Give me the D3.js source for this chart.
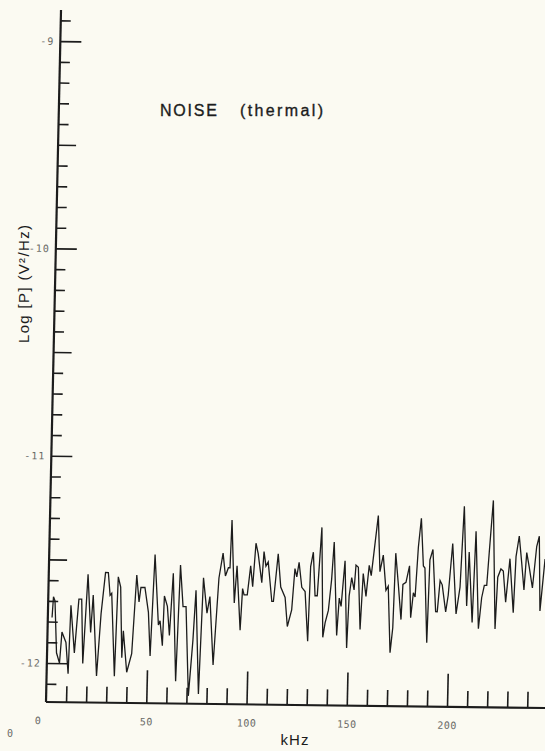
<!DOCTYPE html>
<html><head><meta charset="utf-8">
<script src="https://cdn.jsdelivr.net/npm/d3@7"></script>
<style>
html,body{margin:0;padding:0;background:#fbfaf2;}
svg{display:block;}
</style>
</head><body>
<svg id="chart" width="545" height="751"></svg>
<script>
// ---- data ----
const freqKHz = [2.1,2.6,3.4,4.7,6.3,7.2,9.3,10.7,11.4,13.6,
15.3,16.7,17.9,19.6,21.5,22.4,24.9,26.5,28.3,29.7,
30.8,31.6,33.8,34.7,36.0,37.3,37.8,39.9,42.2,43.9,
45.3,46.1,48.1,50.1,51.4,52.8,55.2,56.0,57.4,57.9,
59.5,60.8,62.1,64.4,65.6,67.3,68.8,70.9,72.6,73.6,
75.9,77.2,79.3,80.6,82.9,84.9,86.7,88.1,89.5,90.3,
90.8,92.8,93.8,96.0,96.8,97.6,99.2,100.6,101.8,103.0,
104.2,106.3,107.1,108.2,109.3,111.5,112.3,114.2,115.8,118.1,
119.5,121.5,122.7,123.7,124.7,126.3,128.0,129.8,130.5,131.7,
133.0,134.1,135.7,137.3,138.3,139.8,141.1,142.0,144.2,145.1,
146.1,147.6,149.3,150.0,151.1,152.4,153.1,154.3,155.8,156.8,
158.4,159.7,160.8,161.9,163.7,165.1,166.6,168.3,169.4,171.0,
172.1,172.8,174.4,176.1,176.7,178.2,179.8,180.9,182.0,182.9,
184.0,185.2,186.7,187.5,189.2,189.9,191.3,193.3,194.1,195.2,
196.3,198.3,199.4,201.1,203.5,205.2,206.5,208.7,209.4,211.6,
212.6,214.8,216.1,217.3,218.5,219.4,220.9,223.1,223.9,225.4,
226.6,228.1,229.8,232.0,232.8,234.2,235.7,237.1,238.1,239.5,
241.3,243.0,244.2,245.3,247.3];

const logP = [-11.78,-11.68,-11.70,-11.95,-12.00,-11.85,-11.90,-12.05,-11.72,-11.95,
-11.69,-11.69,-12.00,-11.57,-11.85,-11.67,-12.06,-11.76,-11.56,-11.56,
-11.67,-11.66,-12.06,-11.58,-11.63,-11.97,-11.84,-12.04,-11.95,-11.57,
-11.70,-11.63,-11.63,-11.75,-11.96,-11.47,-11.81,-11.79,-11.91,-11.67,
-11.72,-11.86,-11.56,-12.08,-11.52,-11.72,-11.72,-12.15,-11.88,-11.64,
-12.14,-11.58,-11.75,-11.67,-12.00,-11.58,-11.46,-11.57,-11.53,-11.53,
-11.30,-11.70,-11.52,-11.83,-11.63,-11.66,-11.66,-11.52,-11.62,-11.41,
-11.46,-11.60,-11.45,-11.52,-11.50,-11.69,-11.69,-11.46,-11.62,-11.67,
-11.81,-11.73,-11.53,-11.57,-11.50,-11.62,-11.64,-11.88,-11.52,-11.45,
-11.66,-11.66,-11.33,-11.86,-11.79,-11.73,-11.58,-11.40,-11.85,-11.67,
-11.71,-11.49,-11.91,-11.66,-11.57,-11.63,-11.51,-11.52,-11.82,-11.55,
-11.66,-11.51,-11.56,-11.45,-11.27,-11.54,-11.46,-11.63,-11.61,-11.93,
-11.81,-11.45,-11.60,-11.77,-11.60,-11.59,-11.51,-11.76,-11.64,-11.66,
-11.42,-11.28,-11.51,-11.52,-11.88,-11.48,-11.43,-11.73,-11.73,-11.58,
-11.60,-11.73,-11.65,-11.40,-11.74,-11.61,-11.22,-11.70,-11.44,-11.78,
-11.34,-11.81,-11.66,-11.60,-11.60,-11.44,-11.19,-11.81,-11.56,-11.52,
-11.53,-11.68,-11.47,-11.73,-11.46,-11.36,-11.49,-11.62,-11.44,-11.51,
-11.61,-11.41,-11.36,-11.72,-11.47];

const xMinorTicks = [10,20,30,40,60,70,80,90,110,120,130,140,160,170,180,190,210,220,230,240];
const xMajorTicks = [0,50,100,150,200];
const xTickLabels = ["0","50","100","150","200"];
const yMajorTicks = [-12,-11,-10,-9];
const yTickLabels = ["-12","-11","-10","-9"];
const yHalfTicks = [-11.5,-10.5,-9.5];
const yMinorTicks = [-12.1,-11.9,-11.8,-11.7,-11.6,-11.4,-11.3,-11.2,-11.1,
  -10.9,-10.8,-10.7,-10.6,-10.4,-10.3,-10.2,-10.1,-9.9,-9.8,-9.7,-9.6,-9.4,-9.3,-9.2,-9.1,-8.9];
const titleMain = "NOISE";
const titleSub = "(thermal)";
const xAxisTitle = "kHz";
const yAxisTitle = "Log [P]  (V²/Hz)";
const yDomain = [-12.188, -8.85];
const xDomain = [0, 250];

// ---- drawing ----
const svg = d3.select("#chart");
const ink = "#1c1c1c";
const grey = "#6a6a66";

// plot frame, slightly skewed like the scanned original
const g = svg.append("g").attr("transform", "matrix(1,0.012,-0.0217,1,46,702)");

const x = d3.scaleLinear().domain(xDomain).range([0, 501.25]);
const y = d3.scaleLinear().domain(yDomain).range([0, -692]);

function styleAxis(sel, w) {
  sel.selectAll(".domain").remove();
  sel.selectAll(".tick line").attr("stroke", ink).attr("stroke-width", w);
}

// x ticks (pointing up)
g.append("g").call(d3.axisTop(x).tickValues(xMinorTicks).tickSize(16).tickFormat(""))
  .call(s => styleAxis(s, 1.6));
g.append("g").call(d3.axisTop(x).tickValues(xMajorTicks.slice(1)).tickSize(33).tickFormat(""))
  .call(s => styleAxis(s, 1.6));
// x labels
const xl = g.append("g").call(d3.axisBottom(x).tickValues(xMajorTicks).tickSize(0).tickPadding(15)
    .tickFormat((d, i) => xTickLabels[i]));
xl.selectAll(".domain").remove();
xl.selectAll("text").attr("font-family", "DejaVu Sans Mono").attr("font-size", 10)
  .attr("fill", grey).attr("letter-spacing", 0.5)
  .attr("dx", (d) => d === 0 ? -8 : 0);

// y ticks (pointing right)
g.append("g").call(d3.axisRight(y).tickValues(yMinorTicks).tickSize(10).tickFormat(""))
  .call(s => styleAxis(s, 1.6));
g.append("g").call(d3.axisRight(y).tickValues(yHalfTicks).tickSize(18).tickFormat(""))
  .call(s => styleAxis(s, 1.6));
g.append("g").call(d3.axisRight(y).tickValues(yMajorTicks).tickSize(21).tickFormat(""))
  .call(s => styleAxis(s, 1.6));
// y labels
const yl = g.append("g").call(d3.axisLeft(y).tickValues(yMajorTicks).tickSize(0).tickPadding(6)
    .tickFormat((d, i) => yTickLabels[i]));
yl.selectAll(".domain").remove();
yl.selectAll("text").attr("font-family", "DejaVu Sans Mono").attr("font-size", 10)
  .attr("fill", grey).attr("letter-spacing", 1);

// axis lines
g.append("line").attr("x1", x(xDomain[0])).attr("x2", x(xDomain[1])).attr("y1", 0).attr("y2", 0)
  .attr("stroke", ink).attr("stroke-width", 2.2);
g.append("line").attr("x1", 0).attr("x2", 0).attr("y1", y(yDomain[0])).attr("y2", y(yDomain[1]))
  .attr("stroke", ink).attr("stroke-width", 2.2);

// noise curve
const pts = d3.zip(freqKHz, logP);
g.append("path").datum(pts)
  .attr("d", d3.line().x(d => x(d[0])).y(d => y(d[1])))
  .attr("fill", "none").attr("stroke", ink).attr("stroke-width", 1.3)
  .attr("stroke-linejoin", "miter");

// titles
svg.append("text").attr("x", 160).attr("y", 116).text(titleMain)
  .attr("font-family", "Liberation Sans").attr("font-size", 16).attr("fill", ink)
  .attr("stroke", ink).attr("stroke-width", 0.35)
  .attr("textLength", 57).attr("lengthAdjust", "spacing");
svg.append("text").attr("x", 240).attr("y", 116).text(titleSub)
  .attr("font-family", "Liberation Sans").attr("font-size", 16).attr("fill", ink)
  .attr("stroke", ink).attr("stroke-width", 0.35)
  .attr("textLength", 83).attr("lengthAdjust", "spacing");

svg.append("text").attr("x", 295).attr("y", 745).attr("text-anchor", "middle").text(xAxisTitle)
  .attr("font-family", "Liberation Sans").attr("font-size", 15).attr("fill", ink)
  .attr("letter-spacing", 1);

svg.append("text").attr("transform", "translate(29,284) rotate(-90)")
  .attr("text-anchor", "middle").text(yAxisTitle)
  .attr("font-family", "Liberation Sans").attr("font-size", 15).attr("fill", ink)
  .attr("textLength", 118).attr("lengthAdjust", "spacing");

// stray origin mark of the original plot
svg.append("text").attr("x", 10).attr("y", 737).attr("text-anchor", "middle").text("0")
  .attr("font-family", "DejaVu Sans Mono").attr("font-size", 10).attr("fill", grey);
</script>
</body></html>
